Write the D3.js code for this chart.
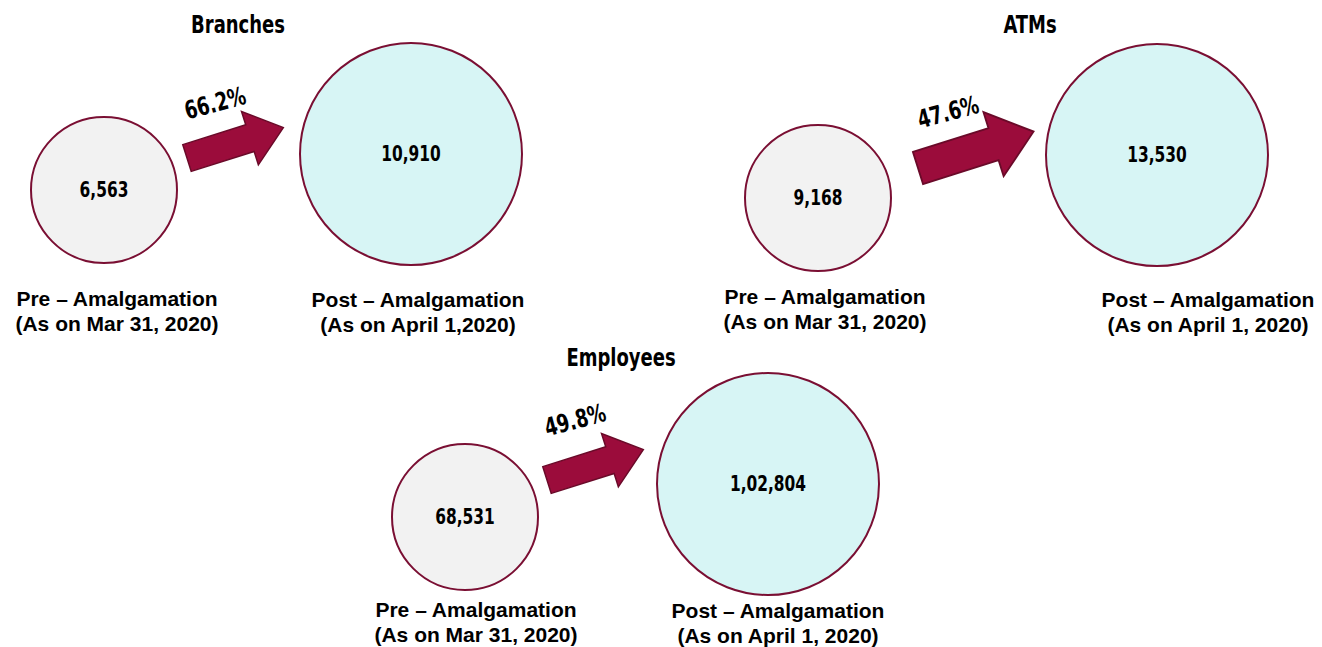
<!DOCTYPE html>
<meta charset="utf-8">
<html>
<head>
<title>Amalgamation circles</title>
<style>
body { margin: 0; background: #fff; }
svg { display: block; }
text.title, text.value, text.pct { font-family: "DejaVu Sans Condensed", "Liberation Sans Narrow", "Roboto", sans-serif; font-weight: bold; fill: #000; }
text.title { font-size: 25px; }
text.value { font-size: 22px; }
text.pct { font-size: 25px; }
text.cap { font-family: "Liberation Sans", Arial, sans-serif; font-weight: bold; font-size: 21px; fill: #000; }
</style>
</head>
<body>
<svg class="chart" width="1322" height="647"></svg>

<script src="https://cdn.jsdelivr.net/npm/d3@7"></script>
<script>

// data
const metrics = ["Branches", "ATMs", "Employees"]
const preValues = [6563, 9168, 68531]
const postValues = [10910, 13530, 102804]
const growthLabels = ["66.2%", "47.6%", "49.8%"]
const preCaptions = [["Pre – Amalgamation", "(As on Mar 31, 2020)"], ["Pre – Amalgamation", "(As on Mar 31, 2020)"], ["Pre – Amalgamation", "(As on Mar 31, 2020)"]]
const postCaptions = [["Post – Amalgamation", "(As on April 1,2020)"], ["Post – Amalgamation", "(As on April 1, 2020)"], ["Post – Amalgamation", "(As on April 1, 2020)"]]

// layout (where each panel sits on the page)
const layout = {
  Branches:  { title: [238, 24], pre: [104, 190], post: [411, 154], arrow: [187, 158, 1.0], pct: [215, 103], preCap: [117, 299], postCap: [418, 300] },
  ATMs:      { title: [1030, 24], pre: [818, 198], post: [1157, 155], arrow: [918, 168, 1.2], pct: [948, 112], preCap: [825, 297], postCap: [1208, 300] },
  Employees: { title: [621, 357], pre: [465, 517], post: [768, 484], arrow: [547, 480, 1.0], pct: [575, 420], preCap: [476, 610], postCap: [778, 611] }
}

const narrow = 0.8 // squeeze for the condensed look

// Indian digit grouping: 1,02,804
function fmtIN(n) {
  var s = String(Math.round(n))
  if (s.length <= 3) return s
  var last = s.slice(-3), rest = s.slice(0, -3)
  rest = rest.replace(/\B(?=(\d{2})+(?!\d))/g, ",")
  return rest + "," + last
}

const radius = d3.scaleOrdinal().domain(["pre", "post"]).range([73, 111])
const fill = d3.scaleOrdinal().domain(["pre", "post"]).range(["#f2f2f2", "#d7f5f5"])

const svg = d3.select("svg.chart")

const panels = metrics.map((m, i) => ({
  id: m, pre: preValues[i], post: postValues[i], pct: growthLabels[i],
  preCap: preCaptions[i], postCap: postCaptions[i], L: layout[m]
}))

// block arrow in local coords, tail at 0, pointing right
const arrowPts = [[0, -14], [66, -14], [66, -28], [101, 0], [66, 28], [66, 14], [0, 14]]
const arrowPath = d3.line()

const g = svg.selectAll("g.panel")
  .data(panels, (d) => d.id)
  .enter().append("g")
  .attr("class", "panel")

g.append("text")
  .attr("class", "title")
  .attr("transform", (d) => "translate(" + d.L.title[0] + "," + d.L.title[1] + ") scale(" + narrow + ",1)")
  .attr("text-anchor", "middle")
  .attr("dominant-baseline", "central")
  .text((d) => d.id)

// circles
;["pre", "post"].forEach((stage) => {
  g.append("circle")
    .attr("cx", (d) => d.L[stage][0])
    .attr("cy", (d) => d.L[stage][1])
    .attr("r", radius(stage))
    .attr("fill", fill(stage))
    .attr("stroke", "#7a0f33")
    .attr("stroke-width", 2)

  g.append("text")
    .attr("class", "value")
    .attr("transform", (d) => "translate(" + d.L[stage][0] + "," + d.L[stage][1] + ") scale(0.78,1)")
    .attr("text-anchor", "middle")
    .attr("dominant-baseline", "central")
    .text((d) => fmtIN(d[stage]))

  var cap = stage + "Cap"
  var t = g.append("text")
    .attr("class", "cap")
    .attr("text-anchor", "middle")
  t.append("tspan")
    .attr("x", (d) => d.L[cap][0])
    .attr("y", (d) => d.L[cap][1] + 7)
    .text((d) => d[cap][0])
  t.append("tspan")
    .attr("x", (d) => d.L[cap][0])
    .attr("y", (d) => d.L[cap][1] + 32)
    .text((d) => d[cap][1])
})

// arrows
g.append("path")
  .attr("d", arrowPath(arrowPts) + "Z")
  .attr("transform", (d) => "translate(" + d.L.arrow[0] + "," + d.L.arrow[1] + ") rotate(-17.5) scale(" + d.L.arrow[2] + ")")
  .attr("fill", "#9b0c3b")
  .attr("stroke", "#6a0a29")
  .attr("stroke-width", 1.5)

g.append("text")
  .attr("class", "pct")
  .attr("transform", (d) => "translate(" + d.L.pct[0] + "," + d.L.pct[1] + ") rotate(-15) scale(" + narrow + ",1)")
  .attr("text-anchor", "middle")
  .attr("dominant-baseline", "central")
  .text((d) => d.pct)

</script>
</body>
</html>
